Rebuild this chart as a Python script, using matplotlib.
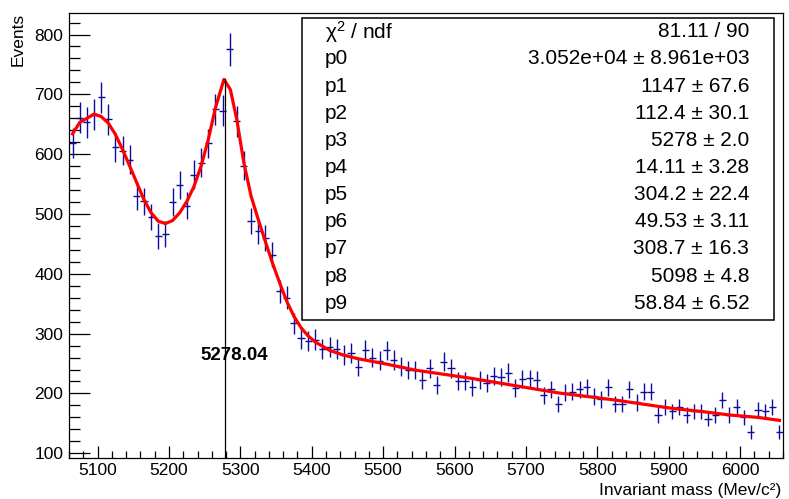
import numpy as np
import matplotlib
matplotlib.use('Agg')
from matplotlib import pyplot as plt
from matplotlib.patches import Rectangle

plt.rcParams['font.family'] = ['Liberation Sans', 'DejaVu Sans']
plt.rcParams['mathtext.fontset'] = 'custom'
plt.rcParams['mathtext.rm'] = 'Liberation Sans'
plt.rcParams['mathtext.it'] = 'Liberation Sans'
plt.rcParams['mathtext.default'] = 'regular'

# histogram: 100 bins of 10 MeV from 5060 to 6060
bin_centers = np.arange(5065, 6060, 10)
counts = [619, 661, 653, 666, 695, 658, 612, 606, 591, 530,
          521, 495, 463, 466, 520, 549, 514, 566, 586, 618,
          675, 673, 775, 655, 581, 488, 472, 460, 432, 371,
          360, 317, 292, 288, 290, 274, 278, 274, 264, 268,
          244, 273, 260, 255, 272, 256, 245, 239, 239, 222,
          242, 214, 253, 242, 221, 221, 210, 222, 218, 229,
          228, 235, 209, 224, 225, 222, 197, 207, 183, 201,
          203, 207, 210, 195, 190, 210, 183, 182, 207, 185,
          203, 203, 164, 178, 170, 178, 164, 170, 170, 158,
          164, 189, 164, 178, 160, 136, 172, 170, 177, 136]

# fitted curve
fit_x = [5065, 5075, 5095, 5105, 5115, 5125, 5135, 5145, 5155, 5165,
         5175, 5185, 5195, 5205, 5215, 5225, 5235, 5245, 5255, 5265,
         5277, 5286, 5295, 5305, 5315, 5325, 5335, 5345, 5355, 5365,
         5375, 5385, 5395, 5405, 5425, 5445, 5465, 5505, 5545, 5585,
         5625, 5665, 5705, 5745, 5785, 5825, 5865, 5905, 5945, 5985,
         6025, 6055]
fit_y = [634, 653, 667, 663, 652, 633, 608, 580, 552, 524,
         502, 488, 484, 489, 502, 521, 546, 580, 624, 677,
         725, 708, 658, 585, 530, 491, 454, 418, 385, 354,
         329, 310, 296, 286, 272, 264, 258, 249, 239, 232,
         225, 217, 209, 201, 195, 189, 182, 175, 170, 164,
         160, 155]

peak_pos = 5278.04
peak_top = 725

stat_names = [r'$\chi^{2}$ / ndf', 'p0', 'p1', 'p2', 'p3', 'p4', 'p5', 'p6', 'p7', 'p8', 'p9']
stat_values = ['81.11 / 90', '3.052e+04 \u00b1 8.961e+03', '1147 \u00b1 67.6', '112.4 \u00b1 30.1',
               '5278 \u00b1 2.0', '14.11 \u00b1 3.28', '304.2 \u00b1 22.4', '49.53 \u00b1 3.11',
               '308.7 \u00b1 16.3', '5098 \u00b1 4.8', '58.84 \u00b1 6.52']

W, H = 789, 499
fig = plt.figure(figsize=(W / 100, H / 100), dpi=100)
ax = fig.add_axes([69 / W, 1 - 458.3 / H, (783 - 69) / W, (458.3 - 12.7) / H])

blue = '#0c0c9c'
ax.errorbar(bin_centers, counts, xerr=5, yerr=np.sqrt(counts), fmt='none',
            ecolor=blue, elinewidth=1.0, capsize=0, zorder=2)
ax.plot(fit_x, fit_y, color='#ff0000', linewidth=2.3, zorder=3)
ax.plot([peak_pos, peak_pos], [91.6, peak_top], color='black', linewidth=0.9, zorder=4)
ax.text(5291, 264, '5278.04', fontsize=13.5, fontweight='bold', ha='center', va='center')

ax.set_xlim(5060, 6060)
ax.set_ylim(91.6, 836.5)
ax.set_xticks(np.arange(5100, 6001, 100))
ax.set_xticks(np.arange(5060, 6061, 20), minor=True)
ax.set_yticks(np.arange(100, 801, 100))
ax.set_yticks(np.arange(100, 836, 20), minor=True)
ax.tick_params(axis='both', which='both', direction='in', top=False, right=False,
               labelsize=12.5, color='black')
ax.tick_params(axis='x', which='major', length=9, width=0.9, pad=3.5)
ax.tick_params(axis='x', which='minor', length=4.7, width=0.9)
ax.tick_params(axis='y', which='major', length=15, width=0.9, pad=4)
ax.tick_params(axis='y', which='minor', length=8, width=0.9)
for s in ax.spines.values():
    s.set_linewidth(0.9)

ax.text(-51 / 714, 1.0, 'Events', rotation=90, ha='center', va='top',
        fontsize=12.5, transform=ax.transAxes)
fig.text(781 / W, 1 - 495 / H, 'Invariant mass (Mev/c\u00b2)', ha='right', va='baseline',
         fontsize=12.5)

# stats box
box = Rectangle((301.7 / W, 1 - 320 / H), (774 - 301.7) / W, (320 - 18.3) / H,
                transform=fig.transFigure, facecolor='white', edgecolor='black',
                linewidth=1.1, zorder=10)
fig.patches.append(box)
for i in range(len(stat_names)):
    yy = 1 - (31.7 + 27.16 * i) / H
    fig.text(325 / W, yy, stat_names[i], ha='left', va='center', fontsize=15, zorder=11)
    fig.text(749.3 / W, yy, stat_values[i], ha='right', va='center', fontsize=15, zorder=11)

fig.savefig('out.png', dpi=100)
